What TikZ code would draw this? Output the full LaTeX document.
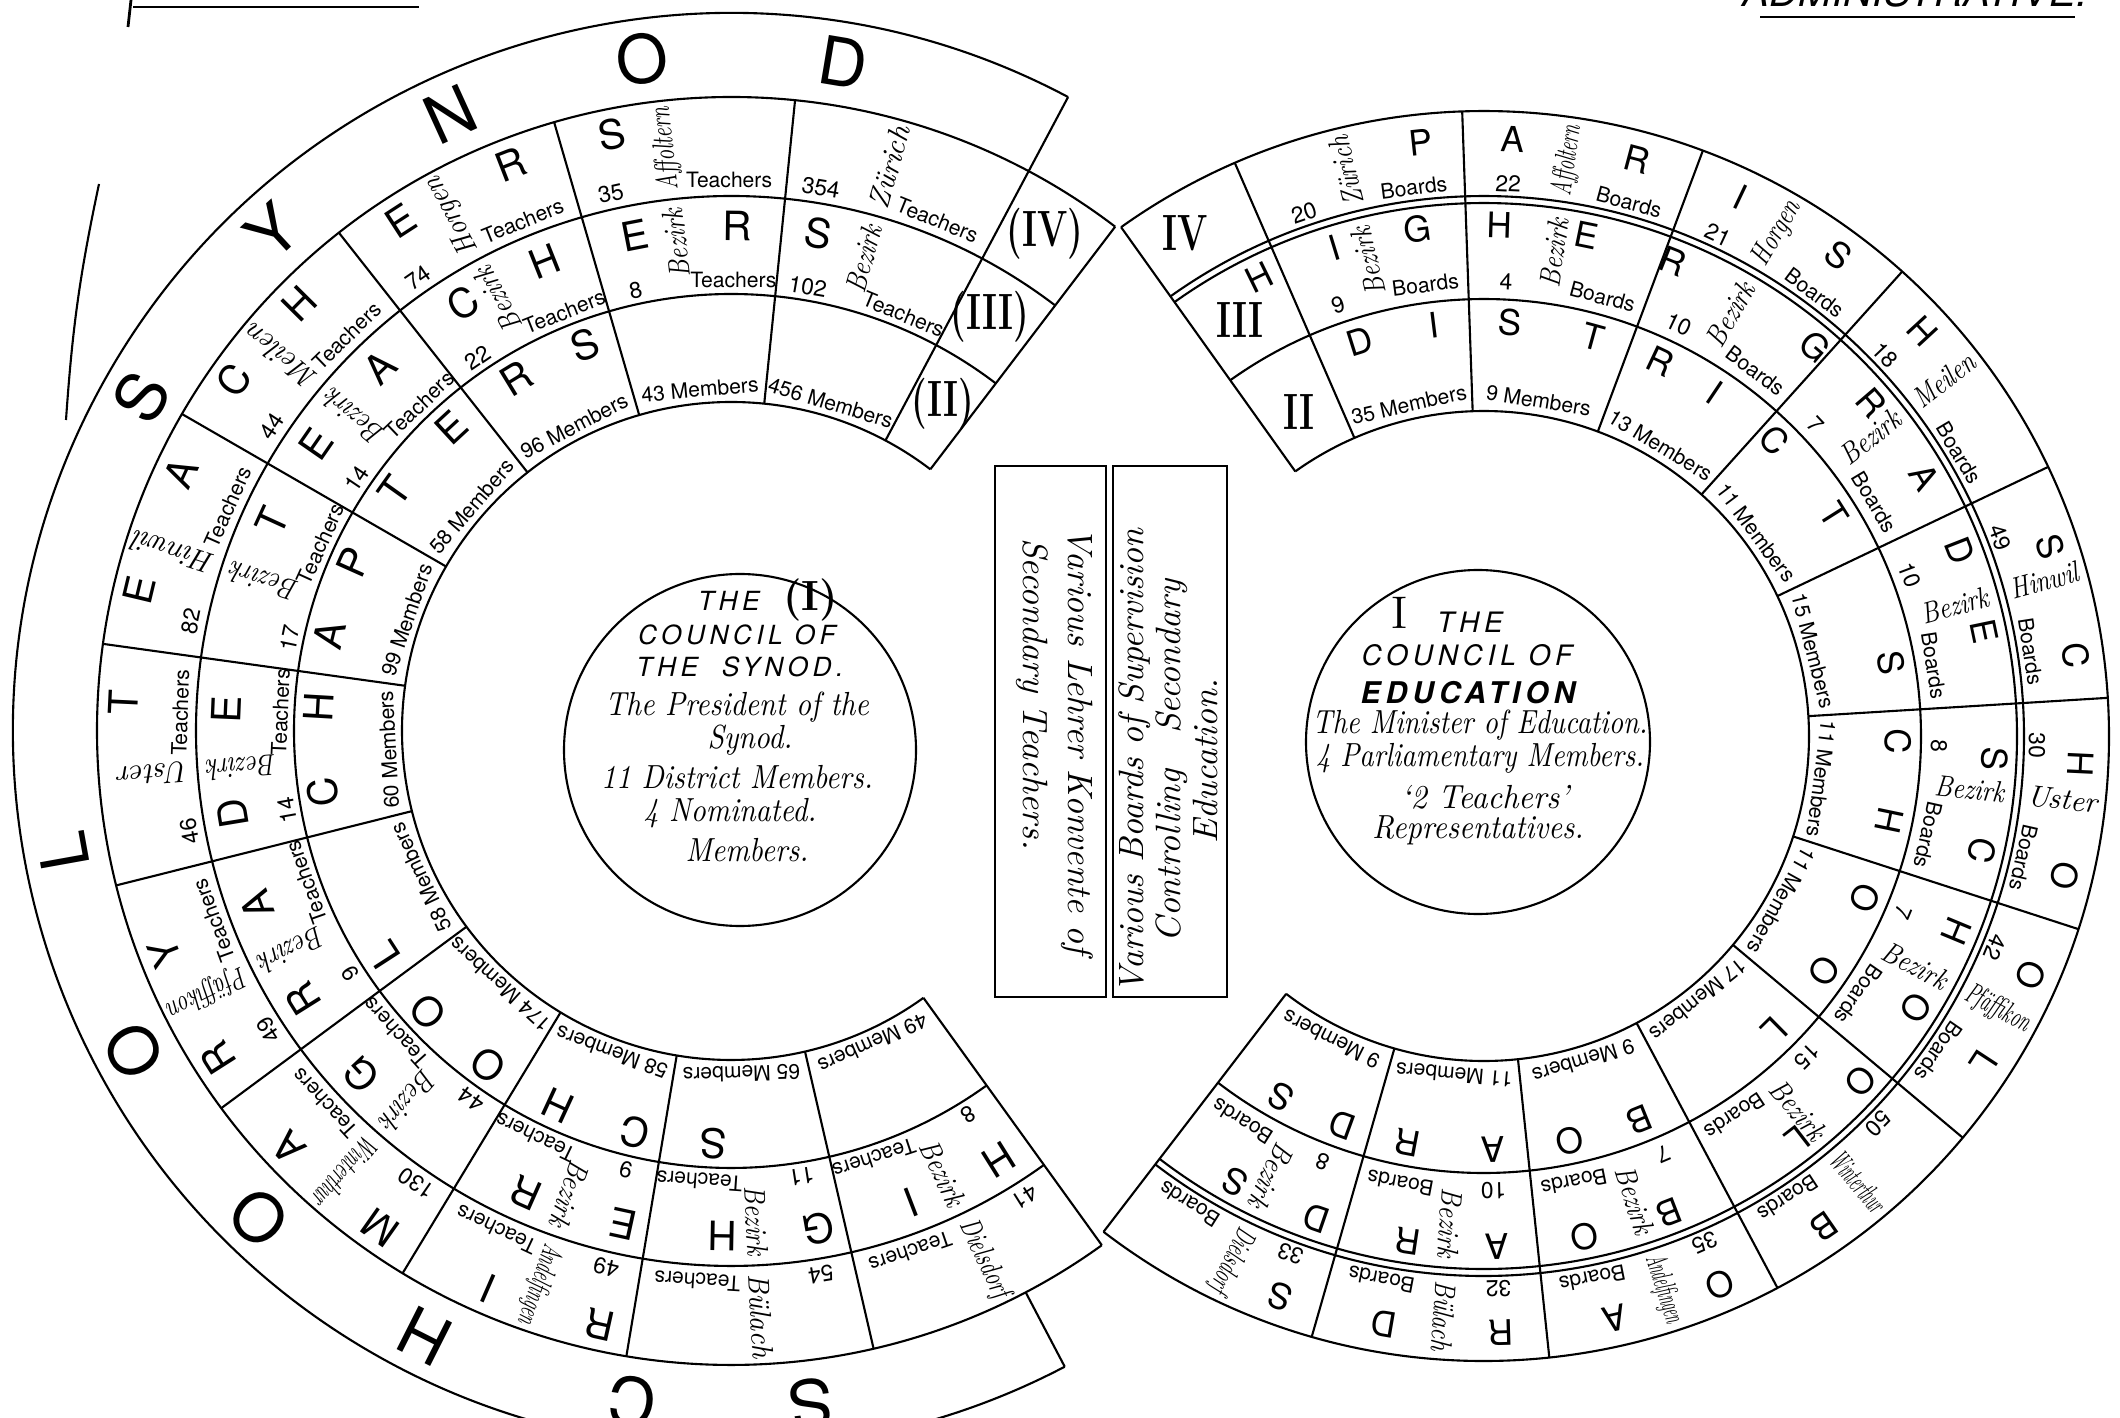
\documentclass[tikz,border=0pt]{standalone}
\usepackage{fontspec}
\usepackage{graphicx}
\newfontfamily\heros{TeX Gyre Heros}
\newfontfamily\capsfont[LetterSpace=17]{TeX Gyre Heros}
\newsavebox\fitbox
\newcommand{\fitto}[2]{\sbox\fitbox{#2}\ifdim\wd\fitbox>#1\relax\resizebox{#1}{\height}{#2}\else\usebox\fitbox\fi}
\newcommand{\cond}[1]{\scalebox{0.82}[1]{#1}}
\newcommand{\narrow}[1]{\scalebox{0.88}[1]{#1}}

\begin{document}
\begin{tikzpicture}[x=0.01cm, y=0.01cm,
  ring/.style={line width=0.6pt},
  synltr/.style={font=\heros\fontsize{19}{19}\selectfont, inner sep=0pt},
  ltr/.style={font=\heros\fontsize{11.5}{11.5}\selectfont, inner sep=0pt},
  rltr/.style={font=\heros\fontsize{10}{10}\selectfont, inner sep=0pt},
  num/.style={font=\heros\fontsize{6.5}{6.5}\selectfont, inner sep=0pt},
  wrd/.style={font=\heros\fontsize{6}{6}\selectfont, inner sep=0pt},
  bez/.style={font=\fontsize{8.5}{8.5}\selectfont\itshape, inner sep=0pt},
  roman/.style={font=\fontsize{14.5}{14.5}\selectfont\bfseries, inner sep=0pt},
  caps/.style={font=\capsfont\itshape\fontsize{7.5}{7.5}\selectfont, inner sep=0pt},
  script/.style={font=\fontsize{9.5}{9.5}\selectfont\itshape, inner sep=0pt},
  boxtxt/.style={font=\fontsize{10}{10.5}\selectfont\itshape, inner sep=0pt, align=center},
  tbox/.style={draw, line width=0.6pt, inner sep=0pt}
]
\useasboundingbox (0,0) rectangle (2120,1417);
\clip (0,0) rectangle (2120,1417);

% page marks
\draw[line width=0.8pt] (131,1417) -- (128,1390);
\draw[line width=0.6pt] (133,1410) -- (419,1410);
\draw[line width=0.6pt] (99,1233) to[bend right=4] (66,997);
\node[font=\heros\itshape\fontsize{11.5}{11.5}\selectfont, anchor=base, inner sep=0pt] (admin) at (1915,1410) {ADMINISTRATIVE.};
\draw[line width=0.6pt] (1760,1400) -- (2075,1400);

% the synod
\begin{scope}[shift={(731,686)}]
  \draw[ring] (62:718) arc[start angle=62, end angle=297.7, radius=718];
  \foreach \r in {634,535,437,329}
    \draw[ring] (52.7:\r) arc[start angle=52.7, end angle=305.8, radius=\r];
  \draw[ring] (62:329) -- (62:718);
  \draw[ring] (297.7:634) -- (297.7:718);
  \foreach \tq in {52.7,84.2,106.2,128.2,150,172.1,194.1,216.5,238.8,260.5,283,305.8}
    \draw[ring] (\tq:329) -- (\tq:634);

  \foreach \tq/\ch [count=\i] in {276.8/S,261.6/C,243.2/H,225.9/O,208.2/O,190.2/L,150.5/S,132.6/Y,114.5/N,97.5/O,80.5/D}
    \node[synltr, rotate=\tq-90] (syn\i) at (\tq:678) {\ch};
  \foreach \tq/\ch [count=\i] in {257.6/R,246.5/I,234.8/M,223.3/A,212.5/R,201.5/Y,177.3/T,166.6/E,154.9/A,144.8/C,135.3/H,122.9/E,111.2/R,101.3/S}
    \node[ltr, rotate=\tq-90] (pri\i) at (\tq:608) {\ch};
  \foreach \tq/\ch [count=\i] in {302/H,291/I,280/G,269/H,257.7/E,246.1/R,222.9/G,212.1/R,200.2/A,189.4/D,177.6/E,155.4/T,145.3/E,134/A,122.1/C,111.7/H,101/E,89.3/R,80/S}
    \node[ltr, rotate=\tq-90] (hig\i) at (\tq:505) {\ch};
  \foreach \tq/\ch [count=\i] in {267.5/S,256.5/C,245.2/H,234/O,222.8/O,212.9/L,188.5/C,176.7/H,166.5/A,155.9/P,144.5/T,132.7/E,121.4/R,110.7/S}
    \node[ltr, rotate=\tq-90] (cha\i) at (\tq:413) {\ch};

  \foreach \nm/\angl/\angh/\numa/\numb/\numc [count=\i] in {
      Zürich/62/84.2/354/102/456, Affoltern/84.2/106.2/35/8/43,
      Horgen/106.2/128.2/74/22/96, Meilen/128.2/150/44/14/58,
      Hinwil/150/172.1/82/17/99, Uster/172.1/194.1/46/14/60,
      Pfäffikon/194.1/216.5/49/9/58, Winterthur/216.5/238.8/130/44/174,
      Andelfingen/238.8/260.5/49/9/58, Bülach/260.5/283/54/11/65,
      Dielsdorf/283/305.8/41/8/49}{
    \pgfmathsetmacro\mang{(\angl+\angh)/2}
    \node[num, rotate=\angh-3.6-90] (lna\i) at ({\angh-3.6}:551) {\numa};
    \node[wrd, rotate=\angl+6-90] (lwa\i) at ({\angl+6}:551) {Teachers};
    \node[num, rotate=\angh-4-90] (lnb\i) at ({\angh-4}:451) {\numb};
    \node[wrd, rotate=\angl+5.5-90] (lwb\i) at ({\angl+5.5}:451) {Teachers};
    \node[wrd, rotate=\mang-90] (lmc\i) at (\mang:343) {\numc\ Members};
    \node[bez, rotate=\mang+1.2, anchor=east] (lbz\i) at ({\mang+1.2}:526) {\cond{Bezirk}};
    \node[bez, rotate=\mang+1.2, anchor=west] (lnm\i) at ({\mang+1.2}:543) {\fitto{0.84cm}{\nm}};
  }
\end{scope}
\node[roman] (liv) at (1045,1183) {\scalebox{0.7}[1]{(IV)}};
\node[roman] (liii) at (990,1100) {\scalebox{0.7}[1]{(III)}};
\node[roman] (lii) at (943,1013) {\scalebox{0.7}[1]{(II)}};

\draw[ring] (740,667) circle[radius=176];
\node[caps] (lthe) at (768,817) {THE\ \ {\normalfont\fontsize{12}{12}\selectfont\bfseries(I)}};
\node[caps] (lcouncil) at (737,782) {COUNCIL OF};
\node[caps] (lsynod) at (740,750) {THE\ \ SYNOD.};
\node[script] (lpres) at (737,710) {\narrow{The President of the}};
\node[script] (lsyn) at (750,677) {\narrow{Synod.}};
\node[script] (ldist) at (737,640) {\narrow{11 District Members.}};
\node[script] (lnom) at (730,604) {\narrow{4 Nominated.}};
\node[script] (lmem) at (747,567) {\narrow{Members.}};

% middle boxes
\node[tbox, minimum width=1.11cm, minimum height=5.31cm] (konv) at (1050.5,685.5) {};
\node[tbox, minimum width=1.14cm, minimum height=5.31cm] (aufs) at (1170,685.5) {};
\node[boxtxt, rotate=-90] (konv1) at (1077,676) {Various Lehrer Konvente of};
\node[boxtxt, rotate=-90] (konv2) at (1032,723) {Secondary Teachers.};
\node[boxtxt, rotate=90] (aufs1) at (1168,656) {Various Boards of Supervision\\Controlling\quad Secondary\\Education.};

% council of education
\begin{scope}[shift={(1484,681)}]
  \foreach \r in {325,437,533,540,625}
    \draw[ring] (-127.5:\r) arc[start angle=-127.5, end angle=125.5, radius=\r];
  \foreach \tq in {125.5,113.5,92,69.5,48,25.5,3.5,-18,-40,-62,-84,-106,-127.5}
    \draw[ring] (\tq:325) -- (\tq:625);

  \foreach \tq/\ch [count=\i] in {96.1/P,87.2/A,75.1/R,64.6/I,53.6/S,42.7/H,18.5/S,7.8/C,-2.7/H,-13.5/O,-23.6/O,-33.2/L,-55.3/B,-66.7/O,-77.3/A,-88.4/R,-99.7/D,-110/S}
    \node[rltr, rotate=\tq-90] (par\i) at (\tq:597) {\ch};
  \foreach \tq/\ch [count=\i] in {116.1/H,107/I,97.5/G,88.2/H,78.4/E,68.3/R,49.6/G,40.7/R,30.5/A,21.3/D,11.8/E,-2.6/S,-13/C,-22.5/H,-32.2/O,-42.5/O,-52.2/L,-68.8/B,-78.7/O,-88.5/A,-98.5/R,-109.1/D,-119.1/S}
    \node[rltr, rotate=\tq-90] (hgr\i) at (\tq:511) {\ch};
  \foreach \tq/\ch [count=\i] in {107.5/D,97/I,86.4/S,74.7/T,64.7/R,56.1/I,45.5/C,32.3/T,10.2/S,-0.7/C,-11.8/H,-23/O,-34.6/O,-45.4/L,-67.9/B,-78/O,-88.7/A,-100.7/R,-110/D,-119.4/S}
    \node[rltr, rotate=\tq-90] (dst\i) at (\tq:414) {\ch};

  \foreach \nm/\angl/\angh/\numo/\numm/\numi [count=\i] in {
      Zürich/92/113.5/20/9/35, Affoltern/69.5/92/22/4/9,
      Horgen/48/69.5/21/10/13, Meilen/25.5/48/18/7/11,
      Hinwil/3.5/25.5/49/10/15, Uster/-18/3.5/30/8/11,
      Pfäffikon/-40/-18/42/7/11, Winterthur/-62/-40/50/15/17,
      Andelfingen/-84/-62/35/7/9, Bülach/-106/-84/32/10/11,
      Dielsdorf/-127.5/-106/33/8/9}{
    \pgfmathsetmacro\mang{(\angl+\angh)/2}
    \node[num, rotate=\angh-4.5-90] (rno\i) at ({\angh-4.5}:553) {\numo};
    \node[wrd, rotate=\angl+5.3-90] (rwo\i) at ({\angl+5.3}:553) {Boards};
    \node[num, rotate=\angh-4.8-90] (rnm\i) at ({\angh-4.8}:455) {\numm};
    \node[wrd, rotate=\angl+5.4-90] (rwm\i) at ({\angl+5.4}:455) {Boards};
    \node[wrd, rotate=\mang-90] (rmi\i) at (\mang:340) {\numi\ Members};
    \node[bez, rotate=\mang+1, anchor=east] (rbz\i) at ({\mang+1}:524) {\cond{Bezirk}};
    \node[bez, rotate=\mang+1, anchor=west] (rnn\i) at ({\mang+1}:546) {\fitto{0.7cm}{\nm}};
  }
\end{scope}
\node[roman] (riv) at (1185,1184) {\scalebox{0.7}[1]{IV}};
\node[roman] (riii) at (1240,1097) {\scalebox{0.7}[1]{III}};
\node[roman] (rii) at (1299,1005) {\scalebox{0.7}[1]{II}};

\draw[ring] (1478,675) circle[radius=172];
\node[font=\fontsize{13}{13}\selectfont, inner sep=0pt] (rone) at (1400,804) {I};
\node[caps, font=\capsfont\itshape\fontsize{8}{8}\selectfont] (rthe) at (1470,795) {THE};
\node[caps, font=\capsfont\itshape\fontsize{8}{8}\selectfont] (rcouncil) at (1467,762) {COUNCIL OF};
\node[caps, font=\capsfont\itshape\bfseries\fontsize{8.5}{8.5}\selectfont] (redu) at (1468,724) {EDUCATION};
\node[script] (rmin) at (1480,692) {\scalebox{0.84}[1]{The Minister of Education.}};
\node[script] (rparl) at (1480,659) {\scalebox{0.84}[1]{4 Parliamentary Members.}};
\node[script] (rteach) at (1485,620) {\scalebox{0.95}[1]{‘2 Teachers’}};
\node[script] (rrep) at (1478,587) {\scalebox{0.9}[1]{Representatives.}};
\end{tikzpicture}
\end{document}
